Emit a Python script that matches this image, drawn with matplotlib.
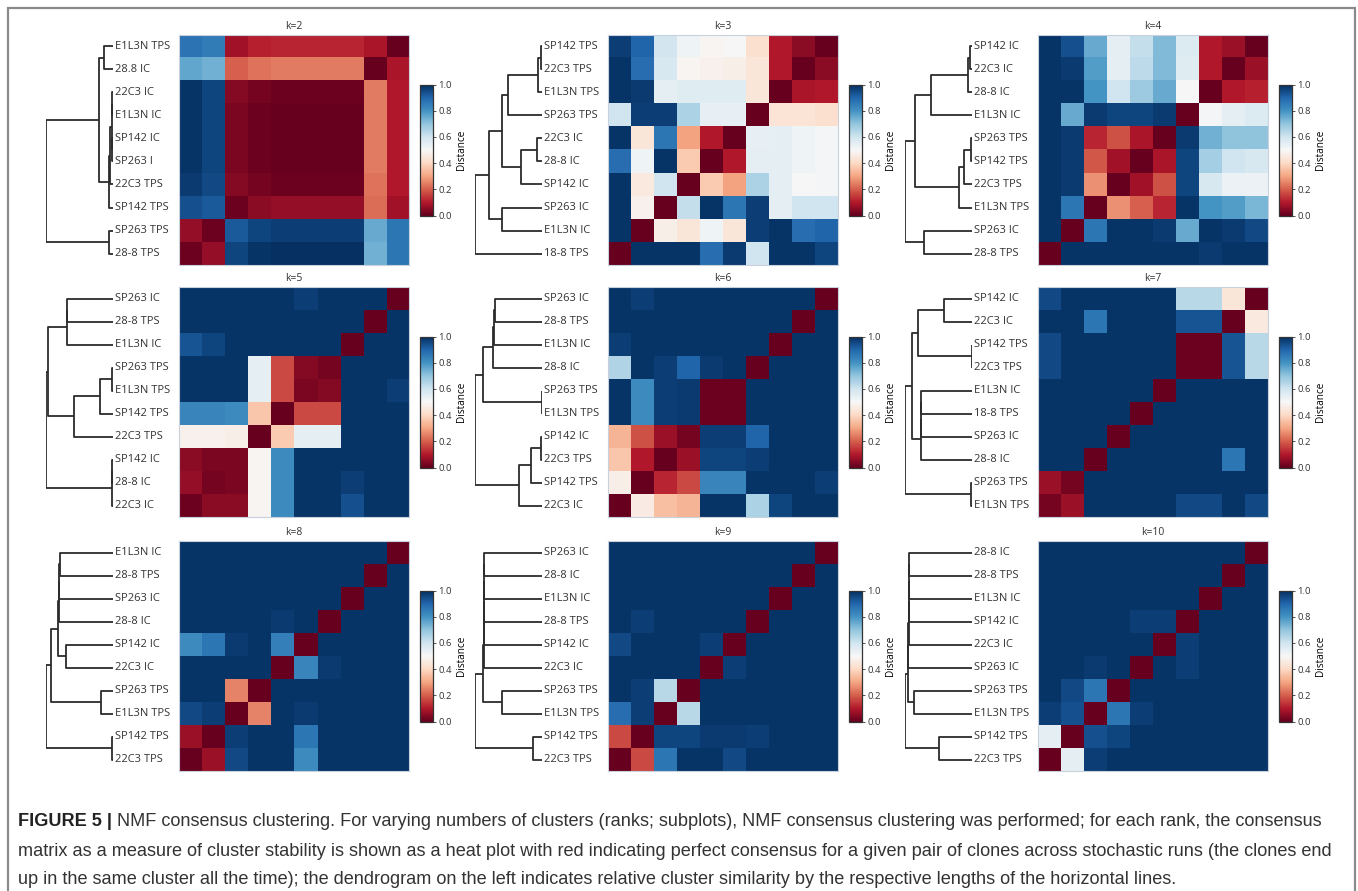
import matplotlib
matplotlib.use('Agg')
import matplotlib.pyplot as plt
from matplotlib.patches import Rectangle

plt.rcParams.update({
    'font.family': ['Open Sans', 'DejaVu Sans'],
    'font.size': 7.5,
    'text.color': '#333333',
    'axes.edgecolor': '#333333',
    'xtick.color': '#333333',
    'ytick.color': '#333333',
})

W, H = 1358, 891

# ---------------------------------------------------------------------------
# Consensus distance matrices (rows top->bottom as displayed, columns left->right)
# ---------------------------------------------------------------------------
labels_k2 = ['E1L3N TPS', '28.8 IC', '22C3 IC', 'E1L3N IC', 'SP142 IC',
             'SP263 I', '22C3 TPS', 'SP142 TPS', 'SP263 TPS', '28-8 TPS']
dist_k2 = [
    [0.87, 0.85, 0.08, 0.11, 0.12, 0.12, 0.12, 0.12, 0.09, 0.00],
    [0.76, 0.74, 0.20, 0.23, 0.24, 0.24, 0.24, 0.24, 0.00, 0.09],
    [0.99, 0.96, 0.04, 0.02, 0.01, 0.01, 0.01, 0.01, 0.24, 0.10],
    [0.99, 0.96, 0.03, 0.01, 0.00, 0.00, 0.00, 0.00, 0.24, 0.10],
    [0.99, 0.96, 0.03, 0.01, 0.00, 0.00, 0.00, 0.00, 0.24, 0.10],
    [0.99, 0.96, 0.03, 0.01, 0.00, 0.00, 0.00, 0.00, 0.24, 0.10],
    [0.98, 0.95, 0.04, 0.02, 0.01, 0.01, 0.01, 0.01, 0.23, 0.10],
    [0.94, 0.92, 0.01, 0.05, 0.06, 0.06, 0.06, 0.06, 0.22, 0.08],
    [0.06, 0.01, 0.92, 0.96, 0.97, 0.97, 0.97, 0.97, 0.75, 0.86],
    [0.01, 0.06, 0.96, 0.99, 1.00, 1.00, 1.00, 1.00, 0.74, 0.86],
]
links_k2 = [(0, 1, 0.14), (2, 3, 0.01), (4, 5, 0.01), (11, 12, 0.02),
            (13, 6, 0.04), (14, 7, 0.06), (10, 15, 0.215), (8, 9, 0.06),
            (16, 17, 1.0)]

labels_k3 = ['SP142 TPS', '22C3 TPS', 'E1L3N TPS', 'SP263 TPS', '22C3 IC',
             '28-8 IC', 'SP142 IC', 'SP263 IC', 'E1L3N IC', '18-8 TPS']
dist_k3 = [
    [0.97, 0.90, 0.59, 0.52, 0.49, 0.50, 0.42, 0.10, 0.05, 0.00],
    [0.99, 0.88, 0.58, 0.49, 0.48, 0.47, 0.44, 0.10, 0.00, 0.05],
    [0.99, 0.98, 0.55, 0.56, 0.56, 0.56, 0.44, 0.00, 0.09, 0.10],
    [0.60, 0.97, 0.97, 0.66, 0.54, 0.54, 0.00, 0.43, 0.43, 0.42],
    [0.99, 0.44, 0.86, 0.30, 0.10, 0.00, 0.54, 0.55, 0.52, 0.51],
    [0.88, 0.52, 0.99, 0.37, 0.00, 0.10, 0.55, 0.55, 0.52, 0.51],
    [0.99, 0.45, 0.60, 0.00, 0.37, 0.30, 0.66, 0.55, 0.50, 0.51],
    [0.99, 0.48, 0.00, 0.62, 0.99, 0.86, 0.97, 0.55, 0.60, 0.60],
    [0.99, 0.00, 0.47, 0.44, 0.52, 0.44, 0.97, 0.99, 0.88, 0.90],
    [0.00, 0.99, 0.99, 0.99, 0.88, 0.98, 0.60, 0.99, 0.99, 0.96],
]
links_k3 = [(0, 1, 0.01), (10, 2, 0.065), (11, 3, 0.51), (4, 5, 0.075),
            (13, 6, 0.31), (12, 14, 0.6), (7, 8, 0.59), (15, 16, 0.785),
            (17, 9, 1.0)]

labels_k4 = ['SP142 IC', '22C3 IC', '28-8 IC', 'E1L3N IC', 'SP263 TPS',
             'SP142 TPS', '22C3 TPS', 'E1L3N TPS', 'SP263 IC', '28-8 TPS']
dist_k4 = [
    [0.99, 0.94, 0.75, 0.55, 0.62, 0.72, 0.57, 0.10, 0.07, 0.00],
    [0.99, 0.98, 0.78, 0.55, 0.63, 0.72, 0.56, 0.10, 0.00, 0.07],
    [0.99, 0.99, 0.80, 0.60, 0.68, 0.75, 0.50, 0.00, 0.10, 0.11],
    [0.99, 0.75, 0.98, 0.96, 0.96, 0.98, 0.00, 0.51, 0.55, 0.57],
    [0.99, 0.98, 0.12, 0.18, 0.09, 0.00, 0.98, 0.74, 0.70, 0.70],
    [0.99, 0.98, 0.19, 0.08, 0.00, 0.09, 0.96, 0.67, 0.60, 0.58],
    [0.99, 0.98, 0.27, 0.00, 0.08, 0.18, 0.96, 0.58, 0.53, 0.53],
    [0.99, 0.86, 0.00, 0.27, 0.20, 0.12, 0.99, 0.80, 0.78, 0.73],
    [0.99, 0.00, 0.86, 0.99, 0.99, 0.98, 0.75, 0.99, 0.98, 0.95],
    [0.00, 0.99, 0.99, 0.99, 0.99, 0.99, 0.99, 0.98, 0.99, 0.99],
]
links_k4 = [(0, 1, 0.025), (10, 2, 0.06), (11, 3, 0.61), (4, 5, 0.01),
            (13, 6, 0.125), (14, 7, 0.2), (12, 15, 0.85), (8, 9, 0.71),
            (16, 17, 1.0)]

labels_k5 = ['SP263 IC', '28-8 TPS', 'E1L3N IC', 'SP263 TPS', 'E1L3N TPS',
             'SP142 TPS', '22C3 TPS', 'SP142 IC', '28-8 IC', '22C3 IC']
dist_k5 = [
    [0.99, 0.99, 0.99, 0.99, 0.99, 0.97, 0.99, 0.99, 0.99, 0.00],
    [0.99, 0.99, 0.99, 0.99, 0.99, 0.99, 0.99, 0.99, 0.00, 0.99],
    [0.93, 0.96, 0.99, 0.99, 0.99, 0.99, 0.99, 0.00, 0.99, 0.99],
    [0.99, 0.99, 0.99, 0.55, 0.17, 0.04, 0.02, 0.99, 0.99, 0.99],
    [0.99, 0.99, 0.99, 0.55, 0.17, 0.03, 0.04, 0.99, 0.99, 0.97],
    [0.83, 0.83, 0.82, 0.36, 0.00, 0.17, 0.17, 0.99, 0.99, 0.99],
    [0.48, 0.48, 0.47, 0.00, 0.37, 0.55, 0.55, 0.99, 0.99, 0.99],
    [0.05, 0.03, 0.03, 0.49, 0.82, 0.99, 0.99, 0.99, 0.99, 0.99],
    [0.06, 0.02, 0.03, 0.49, 0.82, 0.99, 0.99, 0.97, 0.99, 0.99],
    [0.01, 0.05, 0.05, 0.49, 0.82, 0.99, 0.99, 0.94, 0.99, 0.99],
]
links_k5 = [(0, 1, 0.68), (10, 2, 0.69), (3, 4, 0.015), (12, 5, 0.19),
            (13, 6, 0.58), (11, 14, 0.965), (7, 8, 0.01), (16, 9, 0.015),
            (15, 17, 1.0)]

labels_k6 = ['SP263 IC', '28-8 TPS', 'E1L3N IC', '28-8 IC', 'SP263 TPS',
             'E1L3N TPS', 'SP142 IC', '22C3 TPS', 'SP142 TPS', '22C3 IC']
dist_k6 = [
    [0.99, 0.97, 0.99, 0.99, 0.99, 0.99, 0.99, 0.99, 0.99, 0.00],
    [0.99, 0.99, 0.99, 0.99, 0.99, 0.99, 0.99, 0.99, 0.00, 0.99],
    [0.97, 0.99, 0.99, 0.99, 0.99, 0.99, 0.99, 0.00, 0.99, 0.99],
    [0.65, 0.99, 0.97, 0.90, 0.98, 0.99, 0.00, 0.99, 0.99, 0.99],
    [0.99, 0.82, 0.97, 0.98, 0.01, 0.01, 0.99, 0.99, 0.99, 0.99],
    [0.99, 0.82, 0.97, 0.98, 0.01, 0.01, 0.99, 0.99, 0.99, 0.99],
    [0.33, 0.18, 0.07, 0.02, 0.97, 0.97, 0.90, 0.99, 0.99, 0.99],
    [0.36, 0.10, 0.00, 0.07, 0.96, 0.96, 0.97, 0.99, 0.99, 0.99],
    [0.47, 0.00, 0.12, 0.17, 0.83, 0.83, 0.99, 0.99, 0.99, 0.97],
    [0.00, 0.46, 0.35, 0.33, 0.99, 0.99, 0.66, 0.96, 0.99, 0.99],
]
links_k6 = [(0, 1, 0.70), (10, 2, 0.71), (11, 3, 0.725), (4, 5, 0.005),
            (12, 13, 0.885), (6, 7, 0.01), (15, 8, 0.165), (16, 9, 0.35),
            (14, 17, 1.0)]

labels_k7 = ['SP142 IC', '22C3 IC', 'SP142 TPS', '22C3 TPS', 'E1L3N IC',
             '18-8 TPS', 'SP263 IC', '28-8 IC', 'SP263 TPS', 'E1L3N TPS']
dist_k7 = [
    [0.95, 0.99, 0.99, 0.99, 0.99, 0.99, 0.64, 0.64, 0.44, 0.00],
    [0.99, 0.99, 0.86, 0.99, 0.99, 0.99, 0.93, 0.93, 0.00, 0.45],
    [0.95, 0.99, 0.99, 0.99, 0.99, 0.99, 0.01, 0.01, 0.93, 0.64],
    [0.95, 0.99, 0.99, 0.99, 0.99, 0.99, 0.01, 0.01, 0.93, 0.64],
    [0.99, 0.99, 0.99, 0.99, 0.99, 0.00, 0.99, 0.99, 0.99, 0.99],
    [0.99, 0.99, 0.99, 0.99, 0.00, 0.99, 0.99, 0.99, 0.99, 0.99],
    [0.99, 0.99, 0.99, 0.00, 0.99, 0.99, 0.99, 0.99, 0.99, 0.99],
    [0.99, 0.99, 0.00, 0.99, 0.99, 0.99, 0.99, 0.99, 0.86, 0.99],
    [0.07, 0.02, 0.99, 0.99, 0.99, 0.99, 0.99, 0.99, 0.99, 0.99],
    [0.02, 0.07, 0.99, 0.99, 0.99, 0.99, 0.95, 0.95, 0.99, 0.95],
]
links_k7 = [(0, 1, 0.42), (2, 3, 0.005), (10, 11, 0.806), (4, 5, 0.755),
            (13, 6, 0.76), (14, 7, 0.765), (12, 15, 0.9), (8, 9, 0.01),
            (16, 17, 1.0)]

labels_k8 = ['E1L3N IC', '28-8 TPS', 'SP263 IC', '28-8 IC', 'SP142 IC',
             '22C3 IC', 'SP263 TPS', 'E1L3N TPS', 'SP142 TPS', '22C3 TPS']
dist_k8 = [
    [0.99, 0.99, 0.99, 0.99, 0.99, 0.99, 0.99, 0.99, 0.99, 0.00],
    [0.99, 0.99, 0.99, 0.99, 0.99, 0.99, 0.99, 0.99, 0.00, 0.99],
    [0.99, 0.99, 0.99, 0.99, 0.99, 0.99, 0.99, 0.00, 0.99, 0.99],
    [0.99, 0.99, 0.99, 0.99, 0.98, 0.99, 0.00, 0.99, 0.99, 0.99],
    [0.82, 0.86, 0.98, 0.99, 0.84, 0.00, 0.99, 0.99, 0.99, 0.99],
    [0.99, 0.99, 0.99, 0.99, 0.00, 0.83, 0.98, 0.99, 0.99, 0.99],
    [0.99, 0.99, 0.25, 0.00, 0.99, 0.99, 0.99, 0.99, 0.99, 0.99],
    [0.95, 0.97, 0.00, 0.25, 0.99, 0.98, 0.99, 0.99, 0.99, 0.99],
    [0.07, 0.00, 0.97, 0.99, 0.99, 0.86, 0.99, 0.99, 0.99, 0.99],
    [0.00, 0.07, 0.95, 0.99, 0.99, 0.82, 0.99, 0.99, 0.99, 0.99],
]
links_k8 = [(0, 1, 0.795), (10, 2, 0.80), (11, 3, 0.805), (4, 5, 0.70),
            (12, 13, 0.82), (6, 7, 0.175), (14, 15, 0.93), (8, 9, 0.015),
            (16, 17, 1.0)]

labels_k9 = ['SP263 IC', '28-8 IC', 'E1L3N IC', '28-8 TPS', 'SP142 IC',
             '22C3 IC', 'SP263 TPS', 'E1L3N TPS', 'SP142 TPS', '22C3 TPS']
dist_k9 = [
    [0.99, 0.99, 0.99, 0.99, 0.99, 0.99, 0.99, 0.99, 0.99, 0.00],
    [0.99, 0.99, 0.99, 0.99, 0.99, 0.99, 0.99, 0.99, 0.00, 0.99],
    [0.99, 0.99, 0.99, 0.99, 0.99, 0.99, 0.99, 0.00, 0.99, 0.99],
    [0.99, 0.97, 0.99, 0.99, 0.99, 0.99, 0.00, 0.99, 0.99, 0.99],
    [0.95, 0.99, 0.99, 0.99, 0.97, 0.00, 0.99, 0.99, 0.99, 0.99],
    [0.99, 0.99, 0.99, 0.99, 0.00, 0.97, 0.99, 0.99, 0.99, 0.99],
    [0.99, 0.97, 0.64, 0.00, 0.99, 0.99, 0.99, 0.99, 0.99, 0.99],
    [0.88, 0.97, 0.00, 0.64, 0.99, 0.99, 0.99, 0.99, 0.99, 0.99],
    [0.17, 0.00, 0.96, 0.96, 0.98, 0.98, 0.97, 0.99, 0.99, 0.99],
    [0.00, 0.17, 0.86, 0.99, 0.99, 0.95, 0.99, 0.99, 0.99, 0.99],
]
links_k9 = [(0, 1, 0.86), (10, 2, 0.862), (11, 3, 0.864), (12, 4, 0.866),
            (13, 5, 0.868), (6, 7, 0.6), (14, 15, 0.885), (8, 9, 0.135),
            (16, 17, 1.0)]

labels_k10 = ['28-8 IC', '28-8 TPS', 'E1L3N IC', 'SP142 IC', '22C3 IC',
              'SP263 IC', 'SP263 TPS', 'E1L3N TPS', 'SP142 TPS', '22C3 TPS']
dist_k10 = [
    [0.99, 0.99, 0.99, 0.99, 0.99, 0.99, 0.99, 0.99, 0.99, 0.00],
    [0.99, 0.99, 0.99, 0.99, 0.99, 0.99, 0.99, 0.99, 0.00, 0.99],
    [0.99, 0.99, 0.99, 0.99, 0.99, 0.99, 0.99, 0.00, 0.99, 0.99],
    [0.99, 0.99, 0.99, 0.99, 0.97, 0.97, 0.00, 0.99, 0.99, 0.99],
    [0.99, 0.99, 0.99, 0.99, 0.99, 0.00, 0.97, 0.99, 0.99, 0.99],
    [0.99, 0.99, 0.98, 0.99, 0.00, 0.99, 0.97, 0.99, 0.99, 0.99],
    [0.99, 0.95, 0.86, 0.00, 0.99, 0.99, 0.99, 0.99, 0.99, 0.99],
    [0.97, 0.94, 0.00, 0.86, 0.97, 0.99, 0.99, 0.99, 0.99, 0.99],
    [0.55, 0.00, 0.94, 0.96, 0.99, 0.99, 0.99, 0.99, 0.99, 0.99],
    [0.00, 0.55, 0.97, 0.99, 0.99, 0.99, 0.99, 0.99, 0.99, 0.99],
]
links_k10 = [(0, 1, 0.94), (10, 2, 0.942), (11, 3, 0.944), (12, 4, 0.946),
             (13, 5, 0.948), (6, 7, 0.86), (14, 15, 0.96), (8, 9, 0.5),
             (16, 17, 1.0)]

ranks = [2, 3, 4, 5, 6, 7, 8, 9, 10]
panels = [
    (labels_k2, dist_k2, links_k2), (labels_k3, dist_k3, links_k3),
    (labels_k4, dist_k4, links_k4), (labels_k5, dist_k5, links_k5),
    (labels_k6, dist_k6, links_k6), (labels_k7, dist_k7, links_k7),
    (labels_k8, dist_k8, links_k8), (labels_k9, dist_k9, links_k9),
    (labels_k10, dist_k10, links_k10),
]

caption_head = 'FIGURE 5 |'
caption_lines = [
    'NMF consensus clustering. For varying numbers of clusters (ranks; subplots), '
    'NMF consensus clustering was performed; for each rank, the consensus',
    'matrix as a measure of cluster stability is shown as a heat plot with red '
    'indicating perfect consensus for a given pair of clones across stochastic runs (the clones end',
    'up in the same cluster all the time); the dendrogram on the left indicates '
    'relative cluster similarity by the respective lengths of the horizontal lines.',
]


def px_axes(fig, x, y, w, h):
    """Axes placed in pixel units measured from the top-left corner."""
    return fig.add_axes([x / W, 1 - (y + h) / H, w / W, h / H])


def draw_dendrogram(ax, links, n):
    pos = {i: float(i) for i in range(n)}
    height = {i: 0.0 for i in range(n)}
    for k, (a, b, h) in enumerate(links):
        ax.plot([height[a], h, h, height[b]], [pos[a], pos[a], pos[b], pos[b]],
                color='#2b2b2b', lw=1.3, solid_capstyle='butt')
        pos[n + k] = (pos[a] + pos[b]) / 2
        height[n + k] = h
    ax.set_xlim(1.0, 0.0)
    ax.set_ylim(n - 0.5, -0.5)
    ax.axis('off')


fig = plt.figure(figsize=(W / 100, H / 100), dpi=100)

col_left = [179, 608, 1038]
row_top = [35, 287, 541]
hm_size = 230

for idx, (k, (labels, dist, links)) in enumerate(zip(ranks, panels)):
    x0 = col_left[idx % 3]
    y0 = row_top[idx // 3]
    n = len(labels)

    ax = px_axes(fig, x0, y0, hm_size, hm_size)
    im = ax.imshow(dist, cmap='RdBu', vmin=0, vmax=1, aspect='auto',
                   interpolation='nearest')
    ax.set_xticks([])
    ax.set_yticks([])
    for sp in ax.spines.values():
        sp.set_color('#c9d2dc')
        sp.set_linewidth(0.8)
    ax.set_title(f'k={k}', fontsize=7.5, pad=4, color='#333333')

    dax = px_axes(fig, x0 - 133, y0, 67, hm_size)
    draw_dendrogram(dax, links, n)
    for i, lab in enumerate(labels):
        dax.text(-0.03, i, lab, ha='left', va='center', fontsize=8,
                 color='#333333', clip_on=False)

    cax = px_axes(fig, x0 + 241, y0 + (hm_size - 131) / 2, 13, 131)
    cb = fig.colorbar(im, cax=cax, ticks=[0, 0.2, 0.4, 0.6, 0.8, 1.0])
    cb.outline.set_edgecolor('#333333')
    cb.outline.set_linewidth(0.9)
    cax.tick_params(labelsize=6.8, length=2, width=0.6, pad=2)
    cax.set_yticklabels(['0.0', '0.2', '0.4', '0.6', '0.8', '1.0'])
    cax.set_ylabel('Distance', fontsize=7.2, labelpad=3)

# Outer frame
fig.patches.append(Rectangle((8 / W, -0.01), (1355 - 8) / W, 1 - 8 / H + 0.01,
                             transform=fig.transFigure, fill=False,
                             edgecolor='#8a8a8a', lw=1.6))

# Caption
cap_font = ['Liberation Sans', 'DejaVu Sans']
cap_size = 13.1
line_y = [822, 851, 879]
head = fig.text(18 / W, 1 - line_y[0] / H, caption_head, fontsize=cap_size,
                fontweight='bold', family=cap_font, color='#222222', va='center')
fig.add_artist(matplotlib.text.Annotation(
    ' ' + caption_lines[0], xy=(1, 0.5), xycoords=head, va='center', ha='left',
    fontsize=cap_size, family=cap_font, color='#333333', annotation_clip=False))
for y, line in zip(line_y[1:], caption_lines[1:]):
    fig.text(18 / W, 1 - y / H, line, fontsize=cap_size, family=cap_font,
             color='#333333', va='center')

fig.savefig('out.png', dpi=100, facecolor='white')
